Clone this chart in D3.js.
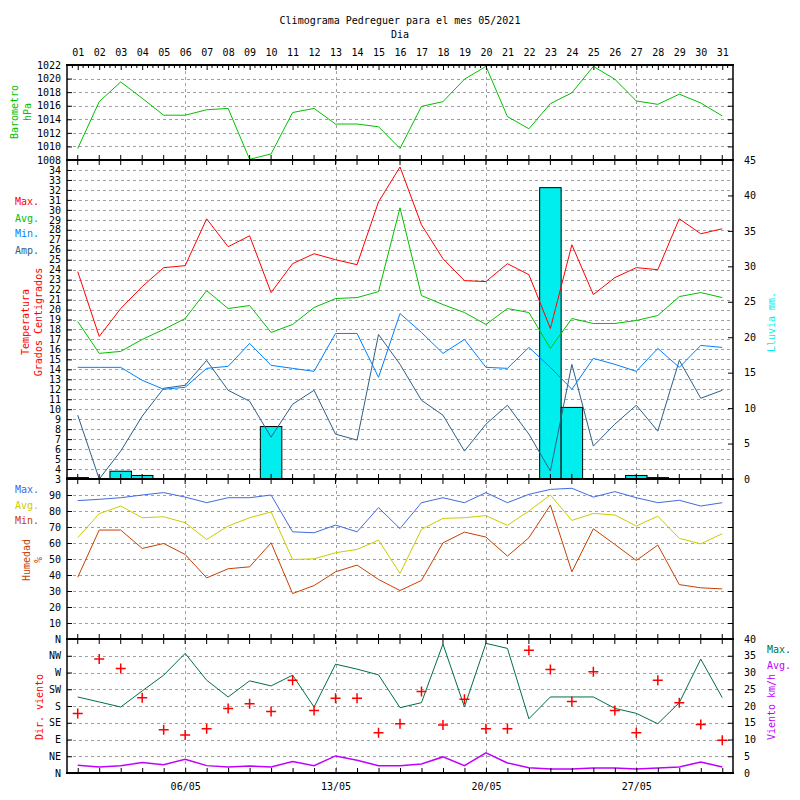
<!DOCTYPE html>
<html><head><meta charset="utf-8">
<script src="https://cdn.jsdelivr.net/npm/d3@7"></script>
<style>body{margin:0;background:#fff} svg text{font-family:"DejaVu Sans Mono",monospace;font-size:10px}</style>
</head><body><svg id="c" width="800" height="800"></svg>
<script>
const days = [1,2,3,4,5,6,7,8,9,10,11,12,13,14,15,16,17,18,19,20,21,22,23,24,25,26,27,28,29,30,31];
const dayLabels = ["01","02","03","04","05","06","07","08","09","10","11","12","13","14","15","16","17","18","19","20","21","22","23","24","25","26","27","28","29","30","31"];
const weekTicks = [6,13,20,27];
const weekLabels = ["06/05","13/05","20/05","27/05"];

const pressure = [1009.7,1016.6,1019.5,1017.1,1014.6,1014.6,1015.4,1015.6,1008.1,1008.9,1015.0,1015.6,1013.3,1013.3,1012.9,1009.7,1015.9,1016.6,1019.9,1021.8,1014.4,1012.6,1016.3,1017.9,1021.8,1019.9,1016.7,1016.2,1017.7,1016.4,1014.5];

const tempMax = [23.8,17.3,20.1,22.3,24.2,24.4,29.1,26.3,27.4,21.7,24.6,25.6,25.0,24.5,30.8,34.3,28.5,25.1,22.9,22.8,24.6,23.5,18.1,26.5,21.5,23.2,24.2,24.0,29.1,27.6,28.1];
const tempAvg = [18.8,15.6,15.8,17.0,18.0,19.1,21.9,20.1,20.4,17.7,18.5,20.2,21.1,21.2,21.8,30.2,21.4,20.5,19.7,18.5,20.1,19.7,16.1,19.1,18.6,18.6,18.9,19.4,21.3,21.7,21.2];
const tempMin = [14.2,14.2,14.2,12.9,12.0,12.2,14.1,14.3,16.6,14.4,14.1,13.8,17.6,17.6,13.2,19.6,17.7,15.6,17.0,14.2,14.1,16.2,14.2,12.0,15.1,14.5,13.8,16.1,14.2,16.4,16.2];
const tempAmp = [9.4,3.0,5.8,9.3,12.1,12.4,14.9,11.9,10.8,7.2,10.5,11.9,7.5,6.9,17.5,14.5,10.9,9.4,5.8,8.5,10.4,7.5,3.8,14.5,6.3,8.5,10.4,7.8,14.9,11.1,11.9];
const rain = [0.2,0,1.1,0.5,0,0,0,0,0,7.4,0,0,0,0,0,0,0,0,0,0,0,0,41.1,10.1,0,0,0.5,0.2,0,0,0];

const humMax = [86.5,87.3,88.3,90.0,91.5,88.7,85.2,88.3,88.3,90.0,67.0,66.4,71.2,67.0,82.1,69.0,85.2,88.3,85.2,91.5,85.2,90.4,93.5,94.2,88.7,92.1,88.3,85.2,86.7,83.1,85.2];
const humAvg = [63.3,78.3,83.1,75.8,76.4,72.7,62.2,70.6,75.8,79.4,49.7,50.1,53.9,56.0,61.8,41.0,68.5,75.4,75.8,77.1,71.0,80.0,90.0,74.1,78.5,77.5,70.6,76.8,62.9,59.5,65.8];
const humMin = [38.6,68.1,68.1,56.6,59.7,52.8,38.2,43.9,45.1,60.1,28.4,33.4,42.0,46.2,37.2,30.3,36.6,60.1,66.8,63.7,51.8,63.3,83.7,42.0,68.9,59.1,49.1,58.7,34.0,32.0,31.3];

const windDir = [160,306,281,202,116,102,119,173,186,165,249,168,201,201,108,132,219,129,198,119,119,330,278,192,272,168,108,249,189,130,88];
const windMax = [22.7,21.2,19.7,24.5,29.2,35.7,27.7,22.7,27.5,26.0,29.2,19.7,32.5,31.0,29.3,19.5,21.0,38.5,19.7,38.7,37.2,16.2,22.7,22.7,22.7,19.3,17.8,14.7,21.0,34.0,22.5];
const windAvg = [2.3,1.8,2.2,3.1,2.5,4.1,2.2,1.8,2.1,1.8,3.4,2.2,5.1,3.8,2.2,2.2,2.7,4.8,2.2,6.0,3.0,1.6,1.2,1.2,1.5,1.5,1.2,1.5,1.8,3.3,1.8];

const presTicks = [1008,1010,1012,1014,1016,1018,1020,1022];
const tempTicks = [3,4,5,6,7,8,9,10,11,12,13,14,15,16,17,18,19,20,21,22,23,24,25,26,27,28,29,30,31,32,33,34];
const rainTicks = [0,5,10,15,20,25,30,35,40,45];
const humTicks = [10,20,30,40,50,60,70,80,90];
const dirTicks = [0,45,90,135,180,225,270,315,360];
const dirLabels = ["N","NE","E","SE","S","SW","W","NW","N"];
const speedTicks = [0,5,10,15,20,25,30,35,40];

const C = {
  pres:"#00c000", max:"#ff0000", avg:"#00c000", min:"#0080ff", amp:"#2f5f86", rain:"#00eeee",
  hmax:"#4169e1", havg:"#cccc00", hmin:"#c84000", dir:"#ff0000", wmax:"#007040", wavg:"#c000ff", grid:"#a0a0a0"
};

const L=67, R=733, T=65, S1=160, S2=479, S3=639, B=773;
const svg = d3.select("#c");
svg.append("rect").attr("width",800).attr("height",800).attr("fill","#fff");

const x = d3.scaleLinear().domain([0.5,31.5]).range([L,R]);
const yP = d3.scaleLinear().domain([1008,1022]).range([S1,T]);
const yT = d3.scaleLinear().domain([3,35]).range([S2,S1]);
const yR = d3.scaleLinear().domain([0,45]).range([S2,S1]);
const yH = d3.scaleLinear().domain([0,100]).range([S3,S2]);
const yD = d3.scaleLinear().domain([0,360]).range([B,S3]);
const yS = d3.scaleLinear().domain([0,40]).range([B,S3]);

// grids
const grid = svg.append("g").attr("stroke",C.grid).attr("stroke-dasharray","3,3").attr("stroke-width",1);
function hgrid(scale, vals){
  grid.append("g").selectAll("line").data(vals).join("line")
    .attr("x1",L).attr("x2",R).attr("y1",d=>Math.round(scale(d))+0.5).attr("y2",d=>Math.round(scale(d))+0.5);
}
hgrid(yP, presTicks.filter(v=>v>1008&&v<1022));
hgrid(yT, tempTicks.filter(v=>v>3&&v<35));
hgrid(yH, humTicks);
hgrid(yD, dirTicks.filter(v=>v>0&&v<360));
grid.append("g").selectAll("line").data(weekTicks).join("line")
  .attr("x1",d=>Math.round(x(d))+0.5).attr("x2",d=>Math.round(x(d))+0.5).attr("y1",T).attr("y2",B);

// rain bars
const bw = x(1.5)-x(0.5);
svg.append("g").selectAll("rect").data(days.filter((d,i)=>rain[i]>0)).join("rect")
  .attr("x",d=>x(d-0.5)).attr("width",bw)
  .attr("y",d=>yR(rain[d-1])).attr("height",d=>yR(0)-yR(rain[d-1]))
  .attr("fill",C.rain).attr("stroke","#000").attr("stroke-width",1);

function drawLine(vals, scale, color, w){
  const line = d3.line().x((d,i)=>x(days[i])).y(d=>scale(d));
  svg.append("path").datum(vals).attr("d",line).attr("fill","none").attr("stroke",color).attr("stroke-width",w||1);
}
drawLine(pressure, yP, C.pres);
drawLine(tempAmp, yT, C.amp);
drawLine(tempMin, yT, C.min);
drawLine(tempAvg, yT, C.avg);
drawLine(tempMax, yT, C.max);
drawLine(humMax, yH, C.hmax);
drawLine(humAvg, yH, C.havg);
drawLine(humMin, yH, C.hmin);
drawLine(windMax, yS, C.wmax);
drawLine(windAvg, yS, C.wavg, 1.5);

svg.append("g").selectAll("path").data(windDir).join("path")
  .attr("transform",(d,i)=>`translate(${x(days[i])},${yD(d)})`)
  .attr("d","M-5,0H5M0,-5V5").attr("stroke",C.dir).attr("stroke-width",1.5);

// axes
function style(g){ g.select(".domain").remove(); g.attr("font-family","DejaVu Sans Mono, monospace").attr("font-size",10); g.selectAll("text").attr("fill","#000"); g.selectAll("line").attr("stroke","#000"); }
function leftAxis(scale, vals, fmt){
  const a = d3.axisLeft(scale).tickValues(vals).tickSize(-5).tickPadding(6);
  if(fmt) a.tickFormat(fmt);
  svg.append("g").attr("transform",`translate(${L},0)`).call(a).call(style);
}
function rightAxis(scale, vals, labeled){
  const a = d3.axisRight(scale).tickValues(vals).tickSize(-5).tickPadding(11);
  if(!labeled) a.tickFormat("");
  svg.append("g").attr("transform",`translate(${R},0)`).call(a).call(style);
}
leftAxis(yP, presTicks, d3.format("d"));
leftAxis(yT, tempTicks, d3.format("d"));
leftAxis(yH, humTicks, d3.format("d"));
leftAxis(yD, dirTicks, (d,i)=>dirLabels[i]);
rightAxis(yP, presTicks.filter(v=>v>1008&&v<1022), false);
rightAxis(yR, rainTicks, true);
rightAxis(yH, humTicks, false);
rightAxis(yS, speedTicks, true);

// top axis with day labels
const topAx = d3.axisTop(x).tickValues(days).tickSize(-5).tickPadding(9).tickFormat((d,i)=>dayLabels[i]);
svg.append("g").attr("transform",`translate(0,${T})`).call(topAx).call(style);
const minor = d3.range(0.75,31.5,0.25).filter(v=>v%1!==0);
svg.append("g").selectAll("line").data(minor).join("line")
  .attr("x1",d=>x(d)).attr("x2",d=>x(d)).attr("y1",T).attr("y2",T+3).attr("stroke","#000");

// separator ticks
[S1,S2,S3].forEach(yy=>{
  svg.append("g").selectAll("line").data(days).join("line")
    .attr("x1",d=>x(d)).attr("x2",d=>x(d)).attr("y1",yy-5).attr("y2",yy+5).attr("stroke","#000");
});
// bottom
const botAx = d3.axisBottom(x).tickValues(days).tickSize(-5).tickFormat("");
svg.append("g").attr("transform",`translate(0,${B})`).call(botAx).call(style);
const botLab = d3.axisBottom(x).tickValues(weekTicks).tickSize(0).tickPadding(10).tickFormat((d,i)=>weekLabels[i]);
svg.append("g").attr("transform",`translate(0,${B})`).call(botLab).call(style);

// borders
const bd = svg.append("g").attr("stroke","#000");
[T,S1,S2,S3,B].forEach(yy=>bd.append("line").attr("x1",L-1).attr("x2",R+1).attr("y1",yy).attr("y2",yy).attr("stroke-width",2));
[L,R].forEach(xx=>bd.append("line").attr("x1",xx).attr("x2",xx).attr("y1",T).attr("y2",B).attr("stroke-width",1.5));

// titles
function txt(s, xx, yy, color, anchor, rot){
  const t = svg.append("text").text(s).attr("fill",color||"#000").attr("text-anchor",anchor||"middle").attr("dominant-baseline","central");
  if(rot) t.attr("transform",`translate(${xx},${yy}) rotate(-90)`); else t.attr("x",xx).attr("y",yy);
  return t;
}
txt("Climograma Pedreguer para el mes 05/2021", 400, 20);
txt("Dia", 400, 34);
txt("Barometro", 14, 112, C.pres, "middle", true);
txt("hPa", 27, 112, C.pres, "middle", true);
txt("Max.", 15, 201, C.max, "start");
txt("Avg.", 15, 218, C.avg, "start");
txt("Min.", 15, 233, C.min, "start");
txt("Amp.", 15, 250, C.amp, "start");
txt("Temperatura", 25, 322, C.max, "middle", true);
txt("Grados Centigrados", 38, 322, C.max, "middle", true);
txt("Lluvia mm.", 771, 322, C.rain, "middle", true);
txt("Max.", 15, 489, C.hmax, "start");
txt("Avg.", 15, 505, C.havg, "start");
txt("Min.", 15, 520, C.hmin, "start");
txt("Humedad", 26, 560, C.hmin, "middle", true);
txt("%", 38, 560, C.hmin, "middle", true);
txt("Dir. viento", 39, 707, C.dir, "middle", true);
txt("Max.", 767, 649, C.wmax, "start");
txt("Avg.", 767, 665, C.wavg, "start");
txt("Viento km/h", 771, 707, C.wavg, "middle", true);
</script></body></html>
